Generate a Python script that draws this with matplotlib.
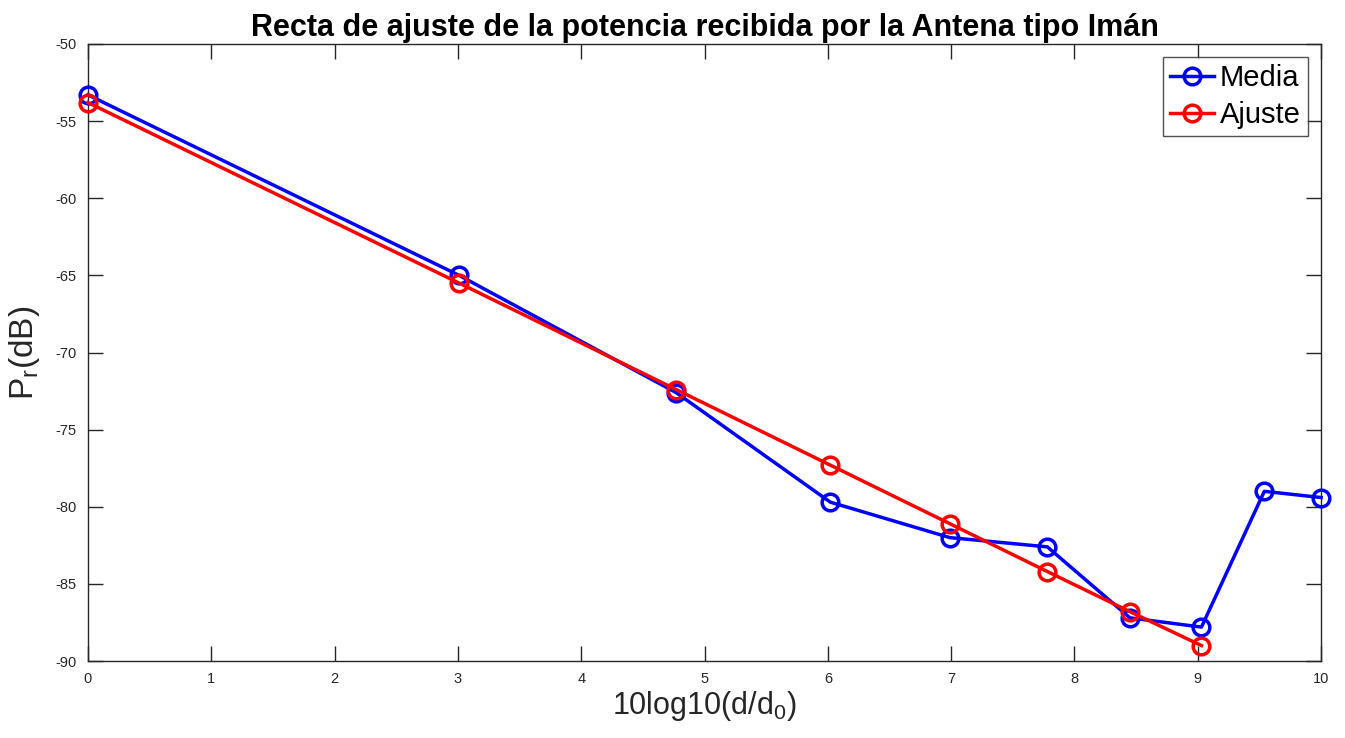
import numpy as np
import matplotlib.pyplot as plt

plt.rcParams['font.family'] = ['Liberation Sans', 'DejaVu Sans']
plt.rcParams['mathtext.fontset'] = 'custom'
plt.rcParams['mathtext.rm'] = 'Liberation Sans'
plt.rcParams['axes.unicode_minus'] = False

# 10log10(d/d0) for d = 1..10
dist_db = [0.0, 3.01, 4.77, 6.02, 6.99, 7.78, 8.45, 9.03, 9.54, 10.0]
media = [-53.3, -65.0, -72.6, -79.7, -82.0, -82.6, -87.2, -87.8, -79.0, -79.4]
ajuste = [-53.8, -65.5, -72.4, -77.3, -81.1, -84.2, -86.8, -89.0]


def main() -> None:
    fig = plt.figure(figsize=(13.45, 7.38), dpi=100)
    ax = fig.add_axes([0.0654, 0.1043, 0.9168, 0.8361])

    ax.plot(dist_db, media, color='#0000ff', lw=2.5, marker='o', ms=12,
            mfc='none', mew=2.5, label='Media', clip_on=False, zorder=3)
    ax.plot(dist_db[:len(ajuste)], ajuste, color='#ff0000', lw=2.5, marker='o',
            ms=12, mfc='none', mew=2.5, label='Ajuste', clip_on=False, zorder=3)

    ax.set_xlim(0, 10)
    ax.set_ylim(-90, -50)
    ax.set_xticks(np.arange(0, 11, 1))
    ax.set_yticks(np.arange(-90, -49, 5))
    ax.tick_params(direction='in', length=11, width=1, top=True, right=True,
                   labelsize=10.5, colors='#262626', pad=8)
    for s in ax.spines.values():
        s.set_color('#262626')
        s.set_linewidth(1)

    ax.set_title('Recta de ajuste de la potencia recibida por la Antena tipo Imán',
                 fontsize=22, fontweight='bold', pad=6)
    ax.set_xlabel(r'10log10(d/$\mathrm{d_0}$)', fontsize=22, color='#262626',
                  labelpad=2)
    ax.set_ylabel(r'$\mathrm{P_r}$(dB)', fontsize=24, color='#262626', labelpad=10)

    leg = ax.legend(loc='upper right', fontsize=21, frameon=True, fancybox=False,
                    borderaxespad=0.45, handlelength=1.5, handletextpad=0.2,
                    labelspacing=0.3, borderpad=0.25)
    leg.get_frame().set_edgecolor('#262626')
    leg.get_frame().set_linewidth(1)

    fig.savefig('out.png', dpi=100)


if __name__ == '__main__':
    main()
